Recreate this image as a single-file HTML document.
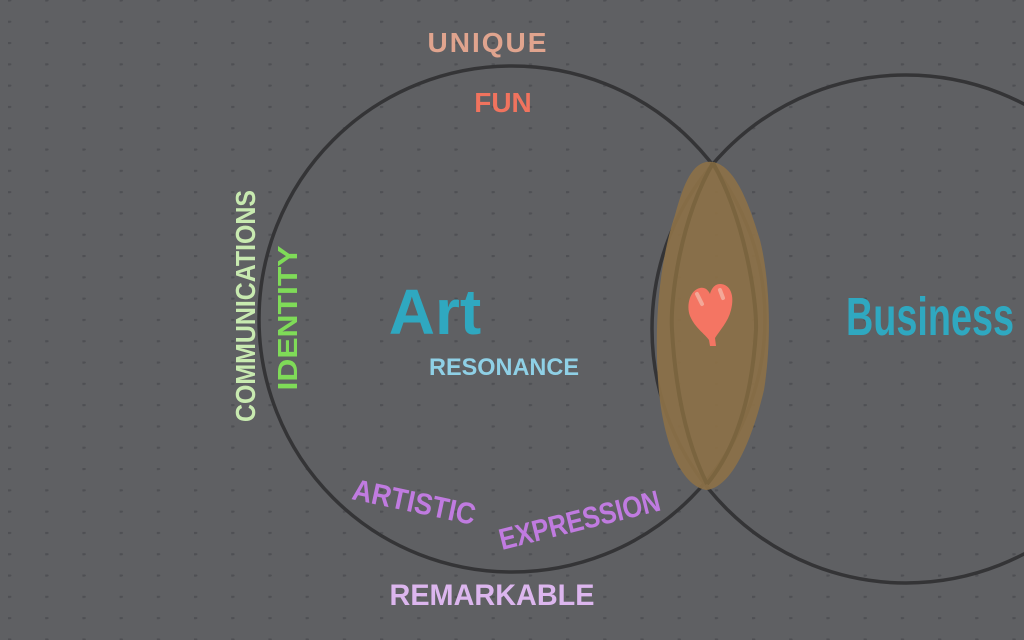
<!DOCTYPE html>
<html><head><meta charset="utf-8"><style>
html,body{margin:0;padding:0;background:#5f6063;}
svg{display:block}
text{font-family:"Liberation Sans",sans-serif;font-weight:bold;}
</style></head><body>
<svg width="1024" height="640" viewBox="0 0 1024 640" xmlns="http://www.w3.org/2000/svg">
<defs>
<pattern id="d" x="8" y="20.7" width="37.2" height="21.3" patternUnits="userSpaceOnUse">
<ellipse cx="1" cy="1" rx="2.5" ry="1.2" fill="#4f5054"/>
</pattern>
</defs>
<rect width="1024" height="640" fill="#5f6063"/>
<rect width="1024" height="640" fill="url(#d)"/>
<circle cx="512" cy="319" r="253" fill="none" stroke="#343436" stroke-width="3.5"/>
<circle cx="906" cy="329" r="254" fill="none" stroke="#343436" stroke-width="3.5"/>
<path d="M706,162 C690,165 682,190 675,215 C660,260 654,320 658,380 C662,440 680,485 706,490 C732,488 752,440 764,390 C772,340 770,280 760,240 C748,200 732,158 706,162 Z" fill="#8c7148" opacity="0.92"/>
<path d="M713,163 C680,220 670,300 672,330 C676,400 690,450 707,484" fill="none" stroke="#7a643f" stroke-width="4"/>
<path d="M713,163 C745,220 757,300 756,330 C752,400 735,450 707,484" fill="none" stroke="#7a643f" stroke-width="4"/>
<path d="M700,288 C690,290 686,305 690,316 C695,328 705,334 709,340 L710,346 L716,346 L715,338 C720,330 728,322 731,310 C735,295 730,284 720,284 C714,284 711,290 710,294 C708,290 705,287 700,288 Z" fill="#f47563"/>
<path d="M697,294 l5,10" stroke="#f3a898" stroke-width="4" stroke-linecap="round"/>
<path d="M720,290 l3,8" stroke="#f3a898" stroke-width="4" stroke-linecap="round"/>
<text x="488" y="52" font-size="28" fill="#e0a48e" text-anchor="middle" font-weight="normal" letter-spacing="2">UNIQUE</text>
<text x="503" y="112" font-size="28" fill="#f0735e" text-anchor="middle" font-weight="normal">FUN</text>
<text x="435" y="334" font-size="64" fill="#2fa8c0" text-anchor="middle" font-weight="normal" font-family="Liberation Serif">Art</text>
<text x="504" y="375" font-size="24" fill="#8fd0e6" text-anchor="middle" font-weight="normal" textLength="150" lengthAdjust="spacingAndGlyphs">RESONANCE</text>
<text x="930" y="335" font-size="54" fill="#2fa8c0" text-anchor="middle" font-weight="normal" textLength="168" lengthAdjust="spacingAndGlyphs">Business</text>
<text transform="translate(255,306) rotate(-90)" font-size="28" fill="#c8eab0" text-anchor="middle" font-weight="normal" textLength="232" lengthAdjust="spacingAndGlyphs">COMMUNICATIONS</text>
<text transform="translate(297,318) rotate(-90)" font-size="28" fill="#7fdb58" text-anchor="middle" textLength="145" lengthAdjust="spacingAndGlyphs">IDENTITY</text>
<text transform="translate(412,512) rotate(12)" font-size="30" fill="#c07be0" text-anchor="middle" textLength="125" lengthAdjust="spacingAndGlyphs">ARTISTIC</text>
<text transform="translate(582,530) rotate(-14)" font-size="30" fill="#c07be0" text-anchor="middle" textLength="165" lengthAdjust="spacingAndGlyphs">EXPRESSION</text>
<text x="492" y="605" font-size="30" fill="#dcb6ee" text-anchor="middle" font-weight="normal" textLength="205" lengthAdjust="spacingAndGlyphs">REMARKABLE</text>
</svg>
</body></html>
